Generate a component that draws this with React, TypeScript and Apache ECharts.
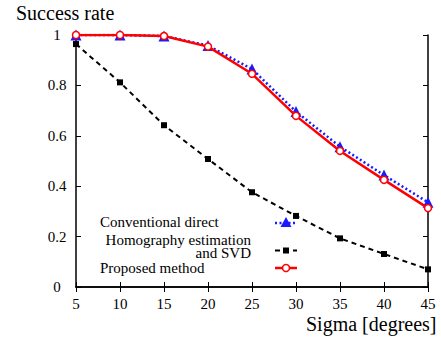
import React, { useEffect, useRef } from "react";
import * as echarts from "echarts";

const sigma = [5, 10, 15, 20, 25, 30, 35, 40, 45];
const conventional = [1.0, 1.0, 0.996, 0.958, 0.865, 0.696, 0.557, 0.444, 0.336];
const homography = [0.964, 0.812, 0.642, 0.508, 0.376, 0.282, 0.193, 0.131, 0.07];
const proposed = [1.0, 1.0, 0.996, 0.954, 0.846, 0.679, 0.54, 0.425, 0.313];
const yTicks = [0, 0.2, 0.4, 0.6, 0.8, 1];
const legendNames = ["Conventional direct", "Homography estimation\nand SVD", "Proposed method"];

const FONT = "Liberation Serif";
const BLUE = "#1a1aff";
const RED = "#ff0000";

export default function App() {
  const ref = useRef<HTMLDivElement>(null);
  const ref2 = useRef<HTMLDivElement>(null);
  useEffect(() => {
    const chart = echarts.init(ref.current!, null, { renderer: "svg" });
    const pair = (ys: number[]) => sigma.map((x, i) => [x, ys[i]]);
    const axisCommon = {
      type: "value" as const,
      axisLine: { show: true, lineStyle: { color: "#000", width: 1.5 } },
      axisTick: { show: true, inside: true, length: 5, lineStyle: { color: "#000", width: 1 } },
      splitLine: { show: false },
    };
    chart.setOption({
      animation: false,
      grid: { left: 76, top: 35, right: 13, bottom: 51 },
      xAxis: [
        {
          ...axisCommon,
          min: 5,
          max: 45,
          interval: 5,
          position: "bottom",
          axisLabel: { color: "#000", fontFamily: FONT, fontSize: 15, margin: 9 },
        },
        { ...axisCommon, min: 5, max: 45, interval: 5, position: "top", axisLabel: { show: false } },
      ],
      yAxis: [
        {
          ...axisCommon,
          min: 0,
          max: 1,
          interval: 0.2,
          position: "left",
          axisLabel: {
            color: "#000",
            fontFamily: FONT,
            fontSize: 15,
            margin: 19,
            align: "center",
            formatter: (v: number) => {
              const t = yTicks.find((y) => Math.abs(y - v) < 1e-6);
              return t === undefined ? "" : String(+t.toFixed(1));
            },
          },
        },
        { ...axisCommon, min: 0, max: 1, interval: 0.2, position: "right", axisLabel: { show: false } },
      ],
      series: [
        {
          type: "line",
          data: pair(homography),
          symbol: "rect",
          symbolSize: 6,
          itemStyle: { color: "#000" },
          lineStyle: { color: "#000", width: 2, type: [5, 4] },
          z: 2,
        },
        {
          type: "line",
          data: pair(conventional),
          symbol: "triangle",
          symbolSize: 11,
          itemStyle: { color: BLUE },
          lineStyle: { color: BLUE, width: 2.5, type: [2, 2.5] },
          z: 3,
        },
        {
          type: "line",
          data: pair(proposed),
          symbol: "circle",
          symbolSize: 7,
          itemStyle: { color: "#fff", borderColor: RED, borderWidth: 1.5 },
          lineStyle: { color: RED, width: 2.5 },
          z: 4,
        },
      ],
      graphic: [
        { type: "line", shape: { x1: 275, y1: 223, x2: 297, y2: 223 }, style: { stroke: BLUE, lineWidth: 2.5, lineDash: [2, 2.5] } },
        { type: "polygon", shape: { points: [[286, 217], [280.5, 227], [291.5, 227]] }, style: { fill: BLUE } },
        { type: "line", shape: { x1: 275, y1: 250.5, x2: 297, y2: 250.5 }, style: { stroke: "#000", lineWidth: 2, lineDash: [5, 4] } },
        { type: "rect", shape: { x: 283, y: 247.5, width: 6, height: 6 }, style: { fill: "#000" } },
        { type: "line", shape: { x1: 275, y1: 268, x2: 297, y2: 268 }, style: { stroke: RED, lineWidth: 2.5 } },
        { type: "circle", shape: { cx: 286, cy: 268, r: 3.5 }, style: { fill: "#fff", stroke: RED, lineWidth: 1.5 } },
      ],
    });

    const overlay = echarts.init(ref2.current!, null, { renderer: "svg" });
    overlay.setOption({
      animation: false,
      graphic: [
        { type: "text", x: 16, y: 3, style: { text: "Success rate", fontFamily: FONT, fontSize: 20, fill: "#000" } },
        { type: "text", x: 306, y: 314, style: { text: "Sigma [degrees]", fontFamily: FONT, fontSize: 20, fill: "#000" } },
        { type: "text", x: 100, y: 214, style: { text: legendNames[0], fontFamily: FONT, fontSize: 15, fill: "#000" } },
        { type: "text", x: 251, y: 233, style: { text: legendNames[1], fontFamily: FONT, fontSize: 15, fill: "#000", align: "right", lineHeight: 13 } },
        { type: "text", x: 100, y: 260, style: { text: legendNames[2], fontFamily: FONT, fontSize: 15, fill: "#000" } },
      ],
    });
    return () => {
      chart.dispose();
      overlay.dispose();
    };
  }, []);
  return (
    <div style={{ position: "absolute", left: 0, top: 0, width: 441, height: 338, background: "#fff" }}>
      <div ref={ref} style={{ position: "absolute", left: 0, top: 0, width: 441, height: 338 }} />
      <div
        ref={ref2}
        style={{ position: "absolute", left: 0, top: 0, width: 441, height: 338, pointerEvents: "none" }}
      />
    </div>
  );
}
